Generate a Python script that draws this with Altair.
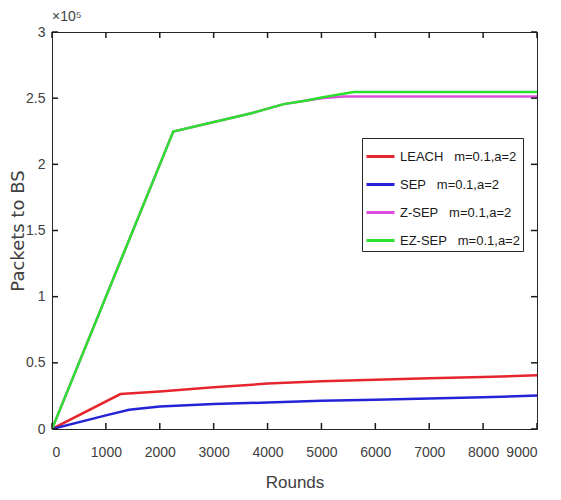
import pandas as pd
import altair as alt

# values (rounds vs packets delivered to BS)
leach_x = [0, 1270, 2000, 3000, 4000, 5000, 6000, 7000, 8000, 9000]
leach_y = [0, 26400, 28400, 31500, 34300, 36000, 37300, 38300, 39300, 40600]
sep_x = [0, 1000, 1430, 2000, 3000, 4000, 5000, 6000, 7000, 8000, 9000]
sep_y = [0, 10300, 14500, 17000, 18800, 20000, 21300, 22100, 23100, 23900, 25400]
zsep_x = [0, 2250, 3700, 4300, 4700, 5000, 5400, 9000]
zsep_y = [0, 224700, 238600, 245500, 248000, 250000, 251300, 251300]
ezsep_x = [0, 2250, 3700, 4300, 4700, 5000, 5600, 9000]
ezsep_y = [0, 224700, 238600, 245500, 248000, 250500, 254700, 254700]

NB = "\u00a0"
series = [
    "LEACH" + NB * 3 + "m=0.1,a=2",
    "SEP" + NB * 3 + "m=0.1,a=2",
    "Z-SEP" + NB * 3 + "m=0.1,a=2",
    "EZ-SEP" + NB * 3 + "m=0.1,a=2",
]
colors = ["#e6262e", "#2424d6", "#e04ce0", "#2ee02e"]

x_ticks = list(range(0, 9001, 1000))
y_ticks = list(range(0, 300001, 50000))

AX = "#262626"
TXT = "#404040"
FONT = "Liberation Sans, Arial, sans-serif"

rows = []
for name, xs, ys in zip(series, [leach_x, sep_x, zsep_x, ezsep_x],
                        [leach_y, sep_y, zsep_y, ezsep_y]):
    for x, y in zip(xs, ys):
        rows.append({"Rounds": x, "Packets": y, "Protocol": name})
df = pd.DataFrame(rows)

x_scale = alt.Scale(domain=[0, 9000], nice=False, zero=False)
y_scale = alt.Scale(domain=[0, 300000], nice=False)
x_axis = alt.Axis(title="Rounds", values=x_ticks, format="d", labelOverlap=False,
                  labelPadding=16, titlePadding=15, titleFontSize=17)
y_axis = alt.Axis(title="Packets to BS", values=y_ticks, labelOverlap=False,
                  labelExpr="datum.value / 100000", labelPadding=7,
                  titlePadding=-2, titleFont="DejaVu Sans", titleFontSize=18)

lines = (
    alt.Chart(df)
    .mark_line(strokeWidth=2.5, clip=True)
    .encode(
        x=alt.X("Rounds:Q", scale=x_scale, axis=x_axis),
        y=alt.Y("Packets:Q", scale=y_scale, axis=y_axis),
        color=alt.Color(
            "Protocol:N",
            scale=alt.Scale(domain=series, range=colors),
            legend=alt.Legend(
                orient="none", legendX=310, legendY=106, title=None,
                symbolType="stroke", symbolSize=784, symbolStrokeWidth=3,
                labelFont=FONT, labelFontSize=13, labelColor="#1a1a1a",
                strokeColor=AX, fillColor="white", padding=3,
                rowPadding=5, labelOffset=4,
            ),
        ),
    )
)

# inward MATLAB-style ticks: zero-length rules stretched inward by an offset
xt = pd.DataFrame({"Rounds": x_ticks, "Packets": 0})
xt_top = pd.DataFrame({"Rounds": x_ticks, "Packets": 300000})
yt = pd.DataFrame({"Packets": y_ticks, "Rounds": 0})
yt_right = pd.DataFrame({"Packets": y_ticks, "Rounds": 9000})

x_enc = alt.X("Rounds:Q", scale=x_scale, axis=x_axis)
y_enc = alt.Y("Packets:Q", scale=y_scale, axis=y_axis)
rule = dict(color="#1a1a1a", strokeWidth=1.5, opacity=1)
bottom = alt.Chart(xt).mark_rule(y2Offset=-6, **rule).encode(
    x=x_enc, y=y_enc, y2="Packets:Q")
top = alt.Chart(xt_top).mark_rule(y2Offset=6, **rule).encode(
    x=x_enc, y=y_enc, y2="Packets:Q")
left = alt.Chart(yt).mark_rule(x2Offset=6, **rule).encode(
    y=y_enc, x=x_enc, x2="Rounds:Q")
right = alt.Chart(yt_right).mark_rule(x2Offset=-6, **rule).encode(
    y=y_enc, x=x_enc, x2="Rounds:Q")

chart = (
    alt.layer(lines, bottom, top, left, right)
    .properties(
        width=485,
        height=397,
        title=alt.TitleParams("×10⁵", anchor="start", frame="group", font=FONT,
                              fontSize=14, fontWeight="normal", color=TXT,
                              offset=1),
        autosize=alt.AutoSizeParams(type="none"),
        padding={"left": 44, "top": 24, "right": 16, "bottom": 63},
    )
    .configure_view(stroke=AX, strokeWidth=1)
    .configure_axis(grid=False, ticks=False, domain=False, labelFont=FONT,
                    labelFontSize=14, labelColor=TXT, titleFont=FONT,
                    titleColor=TXT, titleFontWeight="normal")
)

chart.save("out.html", embed_options={"renderer": "svg", "actions": False})
